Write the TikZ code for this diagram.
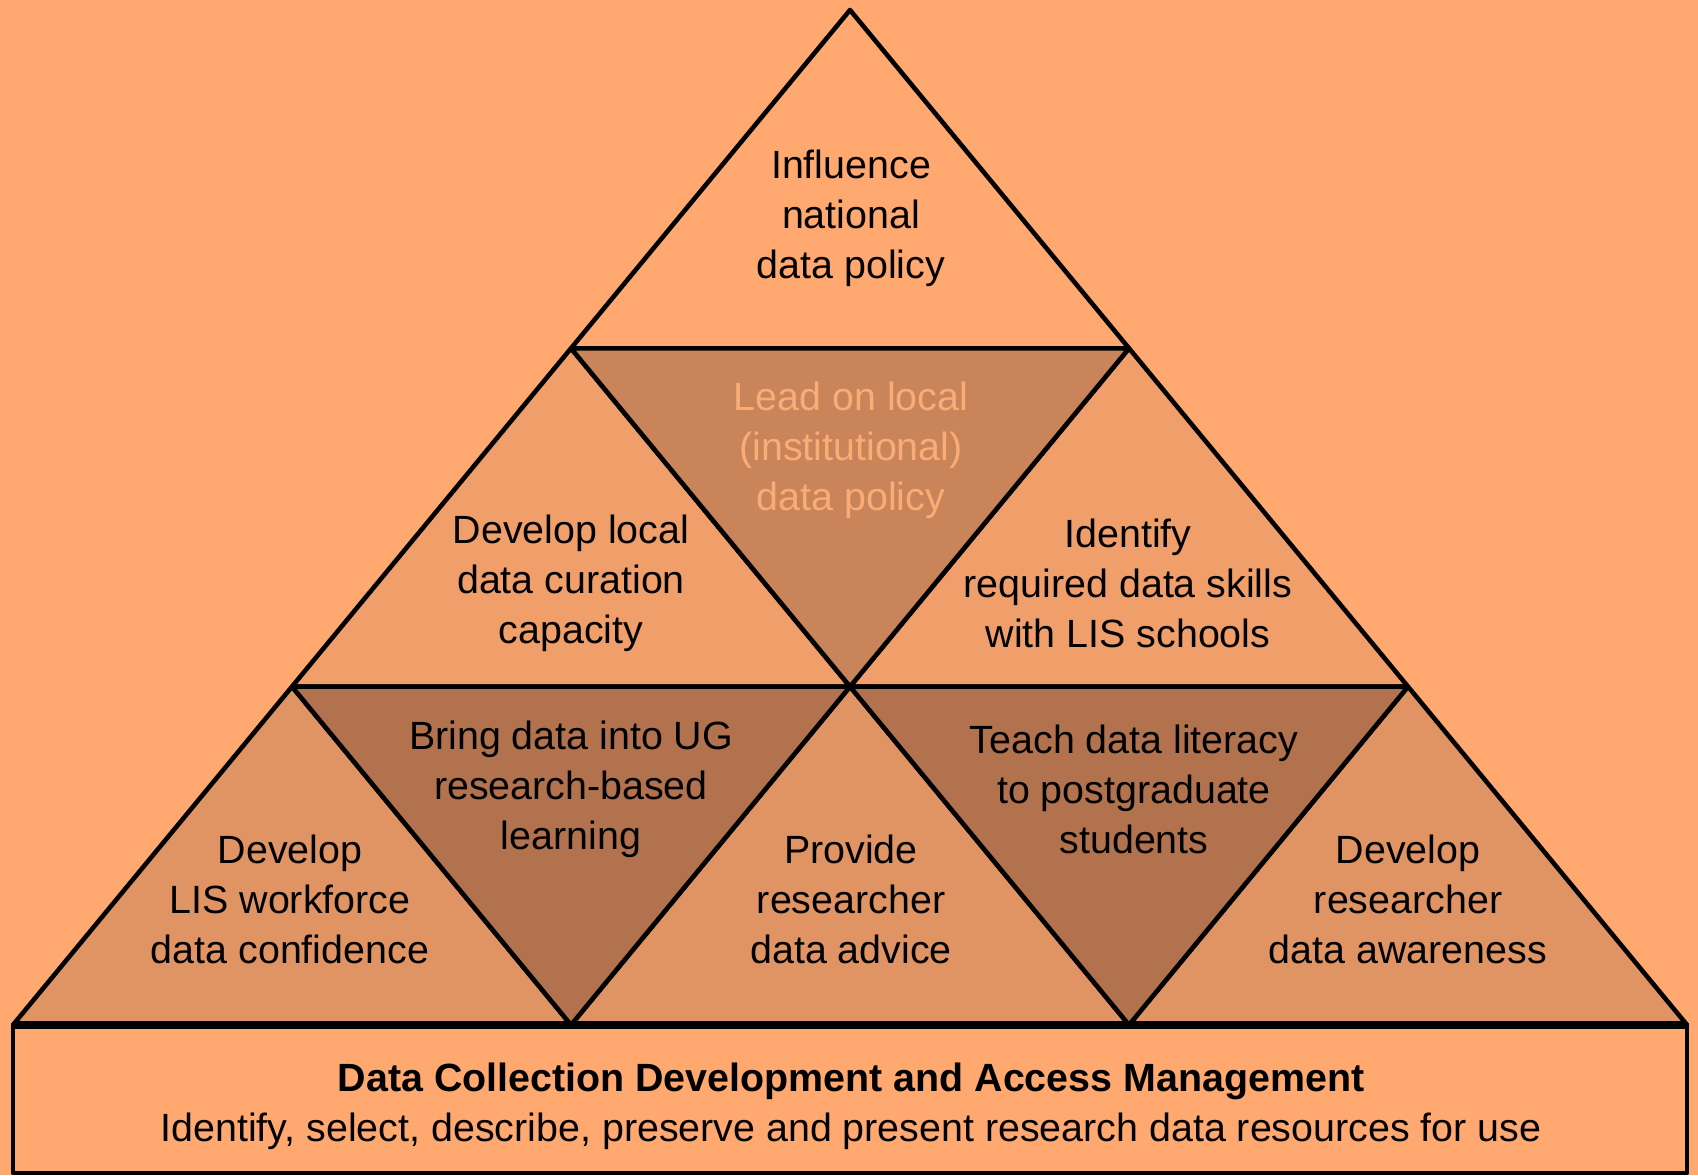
\documentclass[tikz,border=0pt]{standalone}
\usepackage{fontspec}
\setmainfont{Liberation Sans}
\usetikzlibrary{positioning}

\definecolor{peach}{RGB}{255,168,112}
\definecolor{tierA}{RGB}{240,158,106}
\definecolor{tierB}{RGB}{224,148,100}
\definecolor{invA}{RGB}{201,132,90}
\definecolor{invB}{RGB}{178,114,78}
\definecolor{paletext}{RGB}{250,172,118}

\begin{document}
\begin{tikzpicture}[%
    x=0.01cm, y=-0.01cm,
    line join=round,
    tri/.style={draw=black, line width=1.3pt},
    label/.style={align=center, font=\fontsize{11.2}{14.2}\selectfont, text=black},
    on grid
  ]
    \fill[peach] (0,0) rectangle (1698,1175);
    \useasboundingbox (0,0) rectangle (1698,1175);

    % grid points of the pyramid
    \foreach \r in {0,...,3}
      \foreach \k in {0,...,\r}
        \coordinate (v\r\k) at ({850+(\k-\r/2)*558}, {10+\r*338.3});
    \coordinate (boxse) at (1687,1173);

    % foundation box
    \filldraw[tri, fill=peach] (v30) rectangle (boxse);

    % upward triangles
    \filldraw[tri, fill=peach] (v00) -- (v10) -- (v11) -- cycle;
    \foreach \a/\b/\c in {10/20/21, 11/21/22}
      \filldraw[tri, fill=tierA] (v\a) -- (v\b) -- (v\c) -- cycle;
    \foreach \a/\b/\c in {20/30/31, 21/31/32, 22/32/33}
      \filldraw[tri, fill=tierB] (v\a) -- (v\b) -- (v\c) -- cycle;

    % inverted triangles
    \filldraw[tri, fill=invA] (v10) -- (v11) -- (v21) -- cycle;
    \foreach \a/\b/\c in {20/21/31, 21/22/32}
      \filldraw[tri, fill=invB] (v\a) -- (v\b) -- (v\c) -- cycle;

    \draw[line width=2.4pt] (v30) -- (v33);

    \node[label] (policy) at (851,218) {Influence\\national\\data policy};
    \node[label, text=paletext] (lead) at (851,450) {Lead on local\\(institutional)\\data policy};
    \node[label] (curation) at (571,583) {Develop local\\data curation\\capacity};
    \node[label] (skills) at (1128,583) {Identify\\required data skills\\with LIS schools};
    \node[label] (ugrad) at (571,789) {Bring data into UG\\research-based\\learning};
    \node[label] (pgrad) at (1134,789) {Teach data literacy\\to postgraduate\\students};
    \node[label] (workforce) at (290,899) {Develop\\LIS workforce\\data confidence};
    \node[label] (advice) at (851,899) {Provide\\researcher\\data advice};
    \node[label] (awareness) at (1408,899) {Develop\\researcher\\data awareness};

    \node[label, font=\fontsize{11.2}{14.2}\selectfont\bfseries] (title) at (851,1081)
      {Data Collection Development and Access Management};
    \node[label] (subtitle) [below=0.5cm of title]
      {Identify, select, describe, preserve and present research data resources for use};
\end{tikzpicture}
\end{document}
